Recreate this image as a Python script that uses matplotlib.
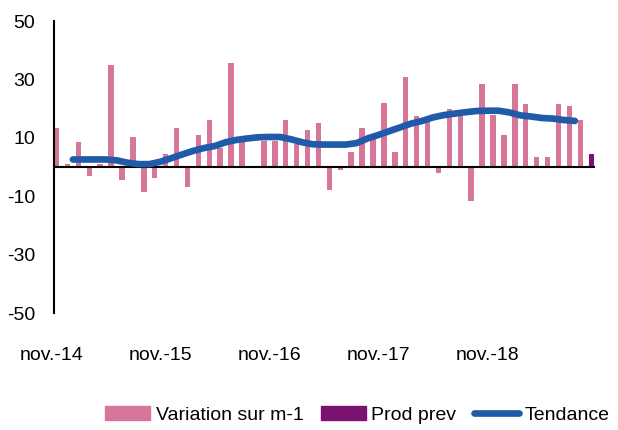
import numpy as np
import matplotlib.pyplot as plt
from matplotlib.patches import Patch
from matplotlib.lines import Line2D
import matplotlib.transforms as mtransforms

plt.rcParams['font.family'] = ['Liberation Sans', 'DejaVu Sans']
plt.rcParams['axes.unicode_minus'] = False

# monthly variation, nov.-14 onwards (last month is the forecast)
variation = [13.4, 1.0, 8.6, -2.9, 1.0, 35.1, -4.4, 10.4, -8.6, -3.7,
             4.5, 13.5, -7.0, 11.1, 16.2, 6.5, 35.8, 8.5, -0.3, 9.0,
             9.0, 16.2, 8.0, 12.8, 15.2, -7.8, -0.9, 5.3, 13.5, 10.0,
             22.0, 5.0, 31.0, 17.6, 16.0, -2.0, 20.0, 17.5, -11.7, 28.6,
             18.0, 11.1, 28.6, 21.7, 3.4, 3.4, 21.7, 21.0, 16.0, np.nan]
prod_prev = [np.nan] * 49 + [4.5]

trend = [2.6, 2.6, 2.6, 2.6, 2.3, 1.5, 1.0, 1.0, 1.8, 3.0,
         4.3, 5.5, 6.5, 7.2, 8.5, 9.3, 9.8, 10.2, 10.3, 10.3,
         9.5, 8.5, 7.8, 7.7, 7.7, 7.7, 8.2, 9.8, 11.0, 12.3,
         13.6, 14.9, 15.8, 17.0, 17.8, 18.3, 18.8, 19.2, 19.3, 19.3,
         18.7, 17.7, 17.3, 16.8, 16.6, 16.1, 15.8]

x_labels = ['nov.-14', 'nov.-15', 'nov.-16', 'nov.-17', 'nov.-18']
label_pos = [-0.5, 9.5, 19.5, 29.5, 39.5]

pink = '#D5769A'
purple = '#7B1270'
blue = '#1F5BA8'

x = np.arange(len(variation))
x_trend = np.arange(1, len(trend) + 1) + 0.5

fig = plt.figure(figsize=(6.18, 4.30), dpi=100)
ax = fig.add_axes([0.0874, 0.272, 0.8746, 0.679])

ax.bar(x, variation, width=0.5, color=pink, zorder=2)
ax.bar(x, prod_prev, width=0.5, color=purple, zorder=2)
ax.axhline(0, color='black', linewidth=1.5, zorder=3)
ax.plot(x_trend, trend, color=blue, linewidth=4.8, solid_capstyle='round', zorder=4)

ax.set_xlim(-0.23, 49.3)
ax.set_ylim(-50, 50)
ax.set_yticks([50, 30, 10, -10, -30, -50])
ax.tick_params(axis='y', length=0, pad=13.5, labelsize=14)
ax.set_xticks([])

for s in ['top', 'right', 'bottom']:
    ax.spines[s].set_visible(False)
ax.spines['left'].set_linewidth(1.5)

trans = mtransforms.blended_transform_factory(ax.transData, ax.transAxes)
for pos, lab in zip(label_pos, x_labels):
    ax.text(pos, -0.144, lab, transform=trans, ha='center', va='center', fontsize=14)

handles = [Patch(color=pink), Patch(color=purple),
           Line2D([0], [0], color=blue, linewidth=4.8, solid_capstyle='round')]
fig.legend(handles, ['Variation sur m-1', 'Prod prev', 'Tendance'],
           loc='center', bbox_to_anchor=(0.578, 0.035), ncol=3, frameon=False,
           fontsize=14, handlelength=2.3, handletextpad=0.3, columnspacing=0.9)

plt.savefig('out.png')
